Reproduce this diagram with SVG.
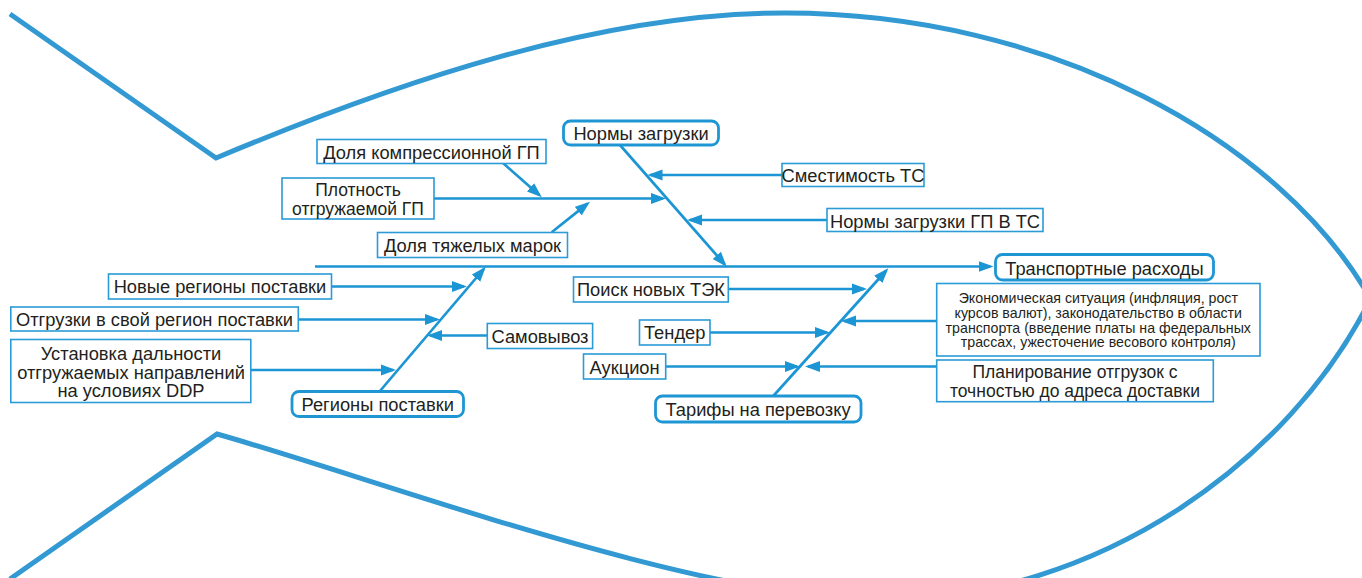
<svg xmlns="http://www.w3.org/2000/svg" width="1362" height="578" viewBox="0 0 1362 578">
<style>
.fish{fill:none;stroke:#3399d3;stroke-width:5;stroke-linejoin:miter}
.box{fill:#fff;stroke:#2a9bd7;stroke-width:1.6}
.rbox{fill:#fff;stroke:#1f96d4;stroke-width:2.8}
.c{fill:none;stroke:#1b95d3;stroke-width:2.7}
text{font-family:"Liberation Sans",Arial,sans-serif;font-size:18.3px;fill:#231f20;text-anchor:middle}
.s{font-size:14.2px}
.m{font-size:17.5px}
</style>
<defs>
<marker id="ah" viewBox="0 0 15 12" refX="12" refY="6" markerWidth="15" markerHeight="12" markerUnits="userSpaceOnUse" orient="auto">
<path d="M0,0.5 L15,6 L0,11.5 Z" fill="#1b95d3"/>
</marker>
</defs>
<g id="fish">
<path class="fish" d="M10,14 L216,158 C400,81 600,13 785,13 C1050,13 1280,140 1370,298"/>
<path class="fish" d="M10,579 L217,434 C380,480 700,600 880,600 C1100,600 1290,460 1370,300"/>
</g>
<g id="connectors">
<line class="c" x1="315" y1="266.5" x2="990.5" y2="266.5" marker-end="url(#ah)"/>
<line class="c" x1="620" y1="145" x2="724.7" y2="264.4" marker-end="url(#ah)"/>
<line class="c" x1="782" y1="175" x2="650.5" y2="175" marker-end="url(#ah)"/>
<line class="c" x1="827" y1="220" x2="690" y2="220" marker-end="url(#ah)"/>
<line class="c" x1="434" y1="198.5" x2="663" y2="198.5" marker-end="url(#ah)"/>
<line class="c" x1="503.3" y1="163.3" x2="539.5" y2="195.3" marker-end="url(#ah)"/>
<line class="c" x1="551.7" y1="232.3" x2="587.6" y2="203.6" marker-end="url(#ah)"/>
<line class="c" x1="380" y1="391" x2="483.8" y2="269" marker-end="url(#ah)"/>
<line class="c" x1="331.7" y1="286.5" x2="464" y2="286.5" marker-end="url(#ah)"/>
<line class="c" x1="298.3" y1="319.5" x2="437" y2="319.5" marker-end="url(#ah)"/>
<line class="c" x1="487.3" y1="335.5" x2="430" y2="335.5" marker-end="url(#ah)"/>
<line class="c" x1="251" y1="370" x2="393" y2="370" marker-end="url(#ah)"/>
<line class="c" x1="773.3" y1="396" x2="886.3" y2="270.5" marker-end="url(#ah)"/>
<line class="c" x1="728.3" y1="289" x2="864" y2="289" marker-end="url(#ah)"/>
<line class="c" x1="710" y1="332.5" x2="827" y2="332.5" marker-end="url(#ah)"/>
<line class="c" x1="665.7" y1="366.5" x2="797" y2="366.5" marker-end="url(#ah)"/>
<line class="c" x1="936.7" y1="321" x2="844" y2="321" marker-end="url(#ah)"/>
<line class="c" x1="936.7" y1="366.5" x2="808" y2="366.5" marker-end="url(#ah)"/>
</g>
<g id="n-normy">
<rect class="rbox" x="563.5" y="121" width="155" height="24" rx="7"/>
<text x="641" y="140">Нормы загрузки</text>
</g>
<g id="n-dolya-kompr">
<rect class="box" x="317" y="139.5" width="229" height="24"/>
<text x="431.5" y="158.5">Доля компрессионной ГП</text>
</g>
<g id="n-plotnost">
<rect class="box" x="282" y="178" width="152" height="41"/>
<text class="m" x="358" y="196">Плотность</text>
<text class="m" x="358" y="214.5">отгружаемой ГП</text>
</g>
<g id="n-dolya-tyazh">
<rect class="box" x="377.5" y="232.5" width="190" height="25"/>
<text x="472.5" y="251.5">Доля тяжелых марок</text>
</g>
<g id="n-smestimost">
<rect class="box" x="782" y="163.5" width="142" height="23"/>
<text x="853" y="181.5">Сместимость ТС</text>
</g>
<g id="n-normy-gp">
<rect class="box" x="827" y="208.5" width="216" height="23"/>
<text x="935" y="227.5">Нормы загрузки ГП В ТС</text>
</g>
<g id="n-transport">
<rect class="rbox" x="995.5" y="254.5" width="218" height="25.5" rx="7"/>
<text x="1104.5" y="274.5">Транспортные расходы</text>
</g>
<g id="n-novye">
<rect class="box" x="108.5" y="274" width="223" height="25"/>
<text x="220" y="293">Новые регионы поставки</text>
</g>
<g id="n-otgruzki">
<rect class="box" x="10.8" y="307" width="287.5" height="24"/>
<text x="154.5" y="325.5">Отгрузки в свой регион поставки</text>
</g>
<g id="n-ustanovka">
<rect class="box" x="10.8" y="339.5" width="240" height="63"/>
<text x="131" y="360">Установка дальности</text>
<text x="131" y="378.5">отгружаемых направлений</text>
<text x="131" y="397">на условиях DDP</text>
</g>
<g id="n-regiony">
<rect class="rbox" x="292" y="391.5" width="171.5" height="25" rx="7"/>
<text x="377.7" y="411">Регионы поставки</text>
</g>
<g id="n-samovyvoz">
<rect class="box" x="487.3" y="323.5" width="105.3" height="25"/>
<text x="540" y="342.5">Самовывоз</text>
</g>
<g id="n-poisk">
<rect class="box" x="573.5" y="277" width="154.8" height="25"/>
<text x="651" y="295.5">Поиск новых ТЭК</text>
</g>
<g id="n-tender">
<rect class="box" x="639.5" y="320" width="70.5" height="25"/>
<text x="674.7" y="339">Тендер</text>
</g>
<g id="n-auktsion">
<rect class="box" x="583.5" y="354" width="82.2" height="25"/>
<text x="624.6" y="373.5">Аукцион</text>
</g>
<g id="n-tarify">
<rect class="rbox" x="655.5" y="396" width="205.5" height="26" rx="7"/>
<text x="758" y="416">Тарифы на перевозку</text>
</g>
<g id="n-ekonom">
<rect class="box" x="936.7" y="283.5" width="323.3" height="72.5"/>
<text class="s" x="1098.3" y="303">Экономическая ситуация (инфляция, рост</text>
<text class="s" x="1098.3" y="317.7">курсов валют), законодательство в области</text>
<text class="s" x="1098.3" y="332.5">транспорта (введение платы на федеральных</text>
<text class="s" x="1098.3" y="347.2">трассах, ужесточение весового контроля)</text>
</g>
<g id="n-planir">
<rect class="box" x="936.7" y="360" width="276.6" height="41.7"/>
<text class="m" x="1075" y="378">Планирование отгрузок с</text>
<text class="m" x="1075" y="396.5">точностью до адреса доставки</text>
</g>
</svg>
